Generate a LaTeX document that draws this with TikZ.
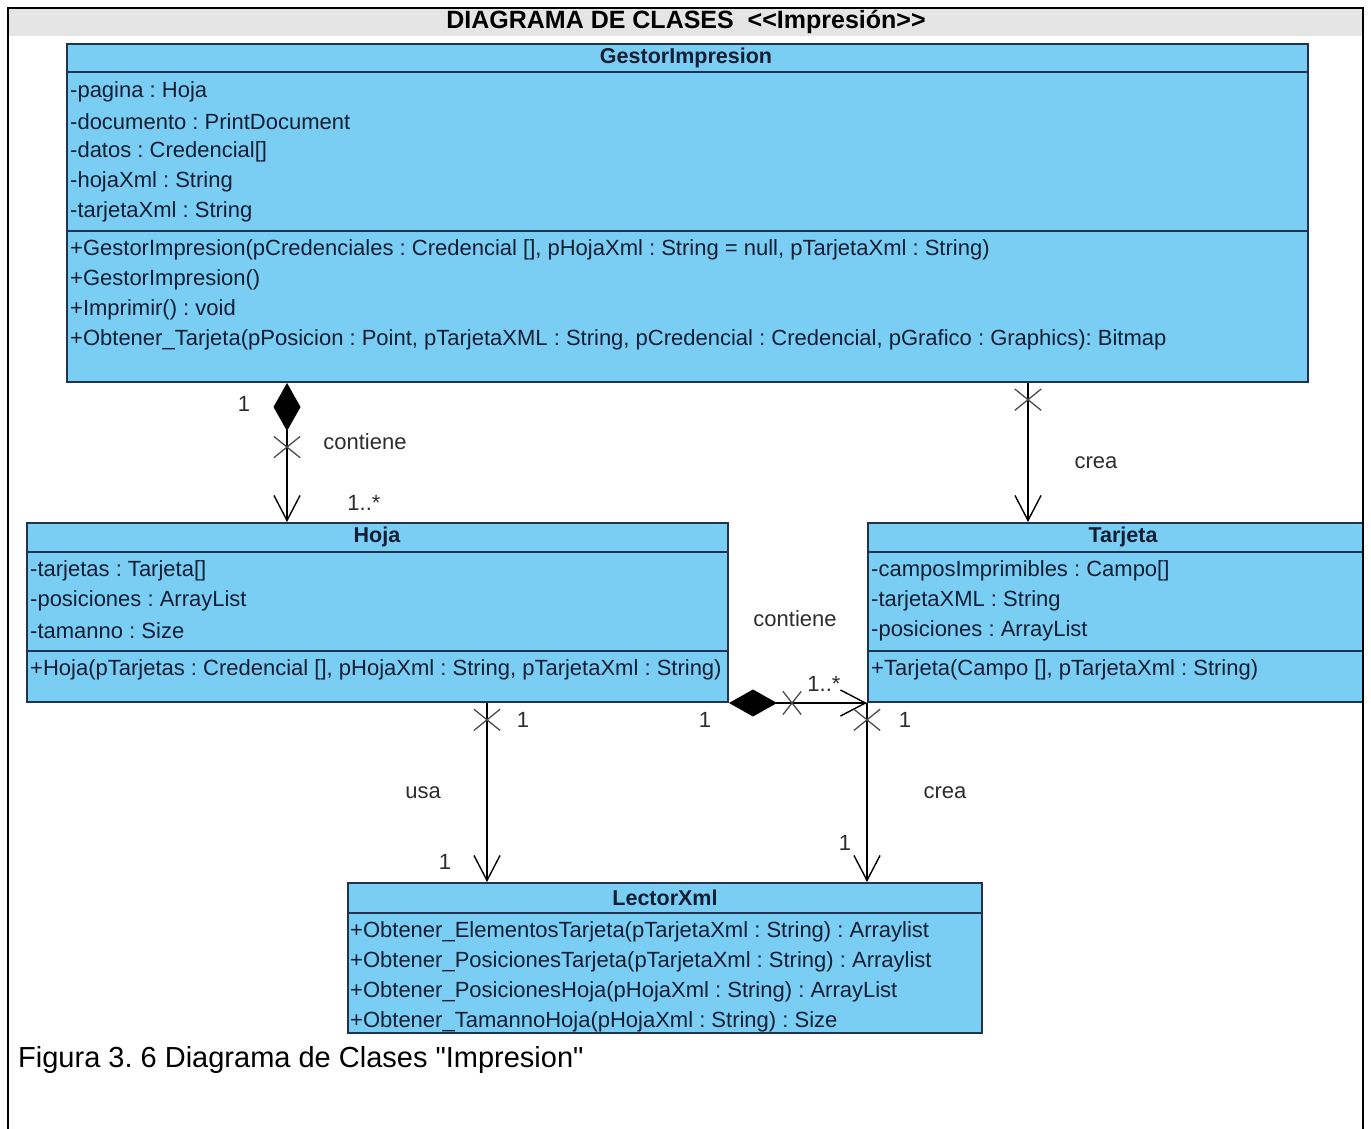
\documentclass[tikz,border=0pt]{standalone}
\usepackage{fontspec}
\setmainfont{Liberation Sans}
\usetikzlibrary{arrows.meta,shapes.misc}
\frenchspacing

\definecolor{boxfill}{RGB}{122,206,243}
\definecolor{boxline}{RGB}{30,52,80}
\definecolor{umltext}{RGB}{18,30,52}
\definecolor{labeltext}{RGB}{45,45,45}
\definecolor{bandgray}{RGB}{229,229,229}

\newcommand\umlsize{\fontsize{22}{26}\selectfont}
\newcommand\namesize{\fontsize{21.5}{26}\selectfont}

\tikzset{
  classbox/.style={draw=boxline, line width=2pt, fill=boxfill, rectangle, inner sep=0pt},
  sepline/.style={draw=boxline, line width=2pt},
  member/.style={anchor=west, inner sep=0pt, text=umltext, font=\umlsize},
  classname/.style={inner sep=0pt, text=umltext, font=\namesize\bfseries},
  assoclabel/.style={inner sep=0pt, text=labeltext, font=\umlsize},
  assoc/.style={draw=black, line width=1.4pt},
  navarrow/.style={-{Straight Barb[length=25pt,width=26pt]}},
  composite/.style={{Diamond[length=48pt,width=27pt,fill=black]}-{Straight Barb[length=25pt,width=26pt]}},
  xmarkv/.style={draw=black!70, line width=1.3pt, cross out, minimum width=25pt, minimum height=20pt, inner sep=0pt},
  xmarkh/.style={draw=black!70, line width=1.3pt, cross out, minimum width=17pt, minimum height=22pt, inner sep=0pt},
}

\begin{document}
\begin{tikzpicture}[x=1pt,y=-1pt]
\useasboundingbox (0,0) rectangle (1371,1129);

% title band
\fill[bandgray] (9,9) rectangle (1362,36);
\node[inner sep=0pt, font=\fontsize{25}{28}\selectfont\bfseries] (title) at (686,22) {DIAGRAMA DE CLASES \ <{}<Impresión>{}>};

% ---------- GestorImpresion ----------
\node[classbox, minimum width=1241pt, minimum height=338pt] (gi) at (687.5,213) {};
\draw[sepline] (gi.west |- 0,72) -- (gi.east |- 0,72);
\draw[sepline] (gi.west |- 0,231) -- (gi.east |- 0,231);
\node[classname] (gi-name) at (686,58) {GestorImpresion};
\node[member] (gi-a1) at (70,92)  {-pagina : Hoja};
\node[member] (gi-a2) at (70,122) {-documento : PrintDocument};
\node[member] (gi-a3) at (70,152) {-datos : Credencial[]};
\node[member] (gi-a4) at (70,182) {-hojaXml : String};
\node[member] (gi-a5) at (70,212) {-tarjetaXml : String};
\node[member] (gi-o1) at (70,250) {+GestorImpresion(pCredenciales : Credencial [], pHojaXml : String = null, pTarjetaXml : String)};
\node[member] (gi-o2) at (70,280) {+GestorImpresion()};
\node[member] (gi-o3) at (70,310) {+Imprimir() : void};
\node[member] (gi-o4) at (70,340) {+Obtener\_Tarjeta(pPosicion : Point, pTarjetaXML : String, pCredencial : Credencial, pGrafico : Graphics): Bitmap};

% ---------- Hoja ----------
\node[classbox, minimum width=701pt, minimum height=179pt] (hoja) at (377.5,612.5) {};
\draw[sepline] (hoja.west |- 0,552) -- (hoja.east |- 0,552);
\draw[sepline] (hoja.west |- 0,651) -- (hoja.east |- 0,651);
\node[classname] (hoja-name) at (377,537) {Hoja};
\node[member] (hoja-a1) at (30,571) {-tarjetas : Tarjeta[]};
\node[member] (hoja-a2) at (30,601) {-posiciones : ArrayList};
\node[member] (hoja-a3) at (30,631) {-tamanno : Size};
\node[member] (hoja-o1) at (30,670) {+Hoja(pTarjetas : Credencial [], pHojaXml : String, pTarjetaXml : String)};

% ---------- Tarjeta ----------
\node[classbox, minimum width=495pt, minimum height=179pt] (tarjeta) at (1115.5,612.5) {};
\draw[sepline] (tarjeta.west |- 0,552) -- (tarjeta.east |- 0,552);
\draw[sepline] (tarjeta.west |- 0,651) -- (tarjeta.east |- 0,651);
\node[classname] (tarjeta-name) at (1123,537) {Tarjeta};
\node[member] (tarjeta-a1) at (871,571) {-camposImprimibles : Campo[]};
\node[member] (tarjeta-a2) at (871,601) {-tarjetaXML : String};
\node[member] (tarjeta-a3) at (871,631) {-posiciones : ArrayList};
\node[member] (tarjeta-o1) at (871,670) {+Tarjeta(Campo [], pTarjetaXml : String)};

% ---------- LectorXml ----------
\node[classbox, minimum width=634pt, minimum height=150pt] (lx) at (665,958) {};
\draw[sepline] (lx.west |- 0,913) -- (lx.east |- 0,913);
\node[classname] (lx-name) at (665,898) {LectorXml};
\node[member] (lx-o1) at (350,932)  {+Obtener\_ElementosTarjeta(pTarjetaXml : String) : Arraylist};
\node[member] (lx-o2) at (350,962)  {+Obtener\_PosicionesTarjeta(pTarjetaXml : String) : Arraylist};
\node[member] (lx-o3) at (350,992)  {+Obtener\_PosicionesHoja(pHojaXml : String) : ArrayList};
\node[member] (lx-o4) at (350,1022) {+Obtener\_TamannoHoja(pHojaXml : String) : Size};

% ---------- connectors ----------
\coordinate (c1) at (287,0);
\coordinate (c2) at (1028,0);
\coordinate (c4) at (487,0);

% GestorImpresion <>-- Hoja
\draw[assoc, composite] (c1 |- gi.south) -- (c1 |- hoja.north)
  node[xmarkv, pos=0.461] (x1) {};
% GestorImpresion -- Tarjeta
\draw[assoc, navarrow] (c2 |- gi.south) -- (c2 |- tarjeta.north)
  node[xmarkv, pos=0.12] (x2) {};
% Hoja <>-- Tarjeta
\draw[assoc, composite] (hoja.south east) -- (tarjeta.south west)
  node[xmarkh, pos=0.457] (x3) {};
% Hoja -- LectorXml
\draw[assoc, navarrow] (c4 |- hoja.south) -- (c4 |- lx.north)
  node[xmarkv, pos=0.094] (x4) {};
% Tarjeta -- LectorXml
\draw[assoc, navarrow] (tarjeta.south west) -- (tarjeta.south west |- lx.north)
  node[xmarkv, pos=0.094] (x5) {};

% association labels and multiplicities
\node[assoclabel] (m1a) at (244,404) {1};
\node[assoclabel] (l1)  at (365,442) {contiene};
\node[assoclabel] (m1b) at (364,503) {1..*};
\node[assoclabel] (l2)  at (1096,463) {crea};
\node[assoclabel] (l3)  at (795,619) {contiene};
\node[assoclabel] (m3b) at (824,684) {1..*};
\node[assoclabel] (m3a) at (705,720) {1};
\node[assoclabel] (m4a) at (523,720) {1};
\node[assoclabel] (l4)  at (423,793) {usa};
\node[assoclabel] (m4b) at (445,862) {1};
\node[assoclabel] (m5a) at (905,720) {1};
\node[assoclabel] (l5)  at (945,793) {crea};
\node[assoclabel] (m5b) at (845,843) {1};

% caption
\node[anchor=west, inner sep=0pt, font=\fontsize{29}{34}\selectfont] (caption) at (18,1060) {Figura 3. 6 Diagrama de Clases \textquotedbl Impresion\textquotedbl};

% outer frame
\draw[line width=2.5pt] (8,1140) -- (8,8) -- (1363,8) -- (1363,1140);
\end{tikzpicture}
\end{document}
